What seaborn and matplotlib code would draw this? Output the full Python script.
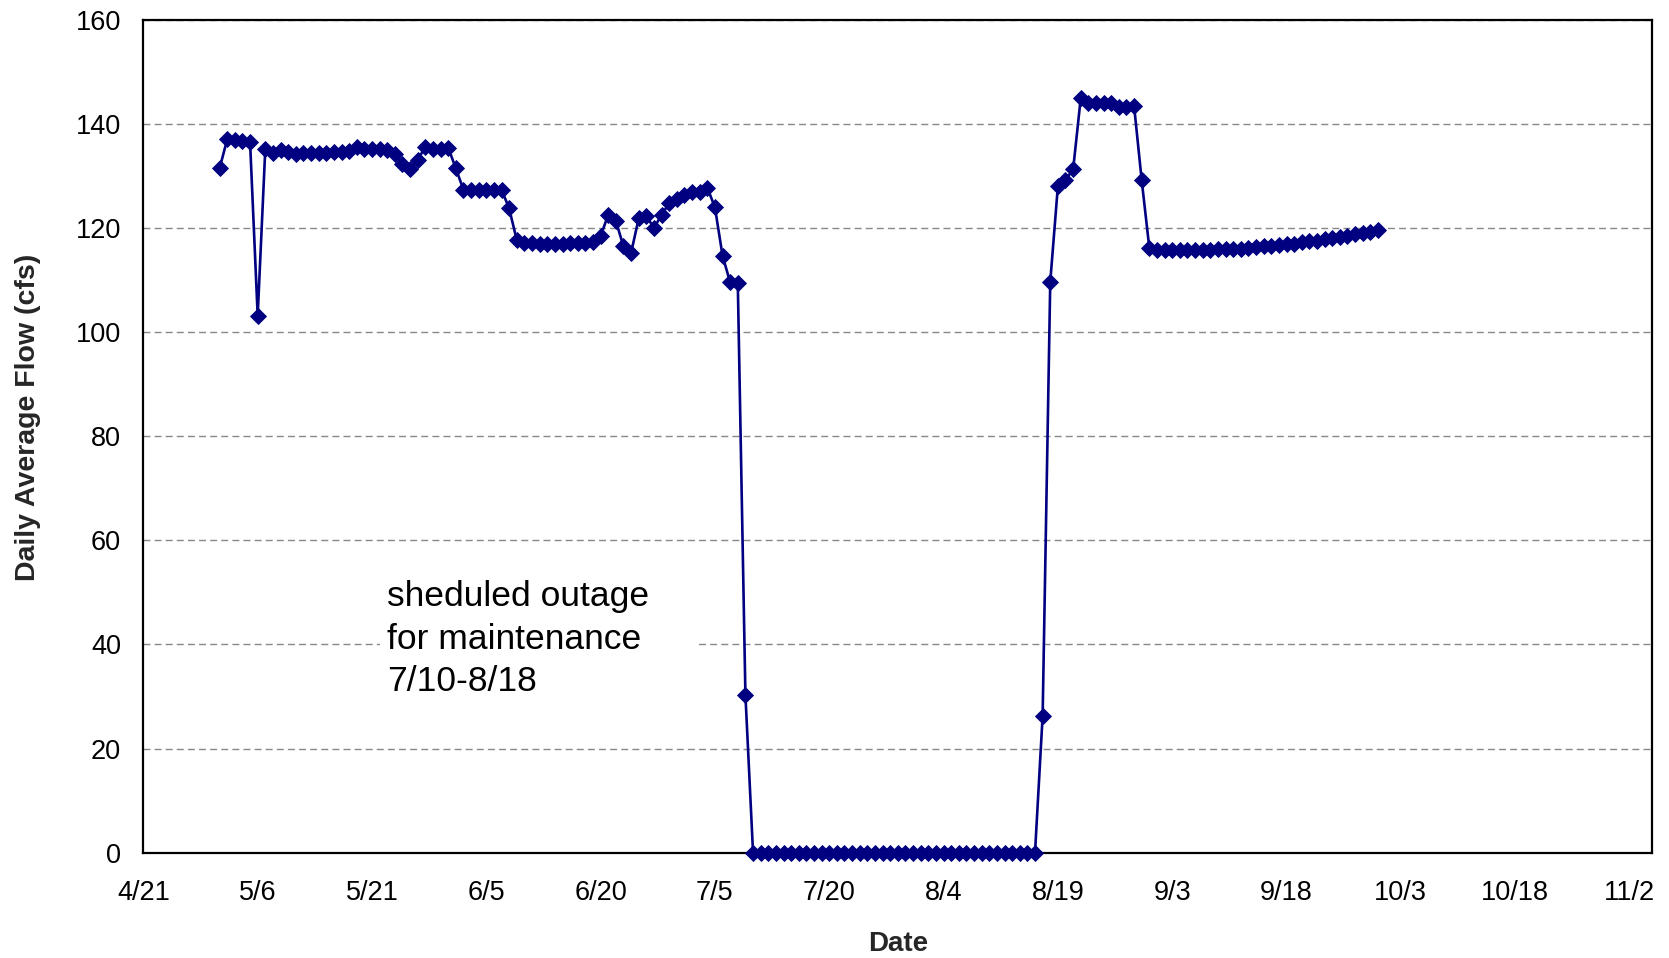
import pandas as pd
import numpy as np
import seaborn as sns
import matplotlib.pyplot as plt
from matplotlib.patches import Rectangle

# daily values, 5/1 to 9/30
start_date = '2007-05-01'
end_date = '2007-09-30'

flow_may_jun = [131.5, 137.1, 137.0, 136.8, 136.6, 103.2, 135.3, 134.5, 135.0, 134.7,
                134.3, 134.4, 134.5, 134.5, 134.5, 134.6, 134.6, 134.8, 135.7, 135.3,
                135.3, 135.3, 135.0, 134.3, 132.4, 131.4, 133.1, 135.7, 135.3, 135.3,
                135.5, 131.5, 127.4, 127.4, 127.4, 127.4, 127.4, 127.4, 123.8, 117.7,
                117.2]
flow_jun_jul = [117.2, 116.9, 116.9, 116.9, 116.9, 117.1, 117.2, 117.1, 117.4, 118.5,
                122.6, 121.4, 116.5, 115.3, 121.9, 122.4, 120.0, 122.6, 124.8, 125.6,
                126.4, 126.9, 127.0, 127.8, 124.0, 114.7, 109.6, 109.4, 30.3]
flow_outage = [0.0, 0.0, 0.0, 0.0, 0.0, 0.0, 0.0, 0.0, 0.0, 0.0,
               0.0, 0.0, 0.0, 0.0, 0.0, 0.0, 0.0, 0.0, 0.0, 0.0,
               0.0, 0.0, 0.0, 0.0, 0.0, 0.0, 0.0, 0.0, 0.0, 0.0,
               0.0, 0.0, 0.0, 0.0, 0.0, 0.0, 0.0, 0.0]
flow_restart = [26.3, 109.7, 128.1, 129.3, 131.3, 145.0, 144.0, 144.0, 144.0, 144.0,
                143.3, 143.3, 143.5, 129.2]
flow_sep = [116.2, 115.9, 115.9, 115.8, 115.8, 115.8, 115.9, 115.9, 115.9, 116.0,
            116.0, 116.1, 116.1, 116.2, 116.3, 116.5, 116.6, 116.8, 116.9, 117.0,
            117.3, 117.5, 117.6, 117.9, 118.2, 118.3, 118.5, 118.9, 119.0, 119.2,
            119.6]

tick_dates = ['2007-04-21', '2007-05-06', '2007-05-21', '2007-06-05', '2007-06-20',
              '2007-07-05', '2007-07-20', '2007-08-04', '2007-08-19', '2007-09-03',
              '2007-09-18', '2007-10-03', '2007-10-18', '2007-11-02']
tick_labels = ['4/21', '5/6', '5/21', '6/5', '6/20', '7/5', '7/20', '8/4', '8/19',
               '9/3', '9/18', '10/3', '10/18', '11/2']
y_ticks = [0, 20, 40, 60, 80, 100, 120, 140, 160]
note = 'sheduled outage\nfor maintenance\n7/10-8/18'

flow = flow_may_jun + flow_jun_jul + flow_outage + flow_restart + flow_sep
df = pd.DataFrame({'Date': pd.date_range(start_date, end_date), 'Flow': flow})

sns.set_theme(style='white')
plt.rcParams['font.family'] = ['Liberation Sans', 'DejaVu Sans']

fig, ax = plt.subplots(figsize=(16.69, 9.58), dpi=100)
fig.subplots_adjust(left=0.0859, right=0.990, bottom=0.110, top=0.979)

ax.yaxis.grid(True, linestyle=(0, (5, 3)), color='#888888', linewidth=1.0)
ax.set_axisbelow(True)

sns.lineplot(data=df, x='Date', y='Flow', ax=ax, color='#000080', linewidth=1.9,
             marker='D', markersize=8.5, markeredgewidth=0.6,
             markeredgecolor='#000080', clip_on=False, zorder=5)

# white text box hiding the grid behind the note
ax.add_patch(Rectangle((0.157, 0.165), 0.209, 0.186, transform=ax.transAxes,
                       facecolor='white', edgecolor='none', zorder=2))
ax.text(0.1615, 0.327, note, transform=ax.transAxes, fontsize=25.5,
        va='top', ha='left', linespacing=1.36, color='black', zorder=3)

ax.set_xlim(pd.Timestamp('2007-04-21'), pd.Timestamp('2007-11-05'))
ax.set_ylim(0, 160)
ax.set_xticks(pd.to_datetime(tick_dates))
ax.set_xticklabels(tick_labels)
ax.set_yticks(y_ticks)

ax.tick_params(axis='both', direction='out', length=7, width=1, color='black',
               labelsize=19.5, labelcolor='black')
ax.tick_params(axis='x', pad=13)
ax.tick_params(axis='y', pad=9)

for sp in ax.spines.values():
    sp.set_visible(True)
    sp.set_color('black')
    sp.set_linewidth(1.6)

ax.set_xlabel('Date', fontsize=20, fontweight='bold', labelpad=18)
ax.set_ylabel('Daily Average Flow (cfs)', fontsize=20.5, fontweight='bold',
              labelpad=25, y=0.523)

plt.savefig('out.png', dpi=100)
